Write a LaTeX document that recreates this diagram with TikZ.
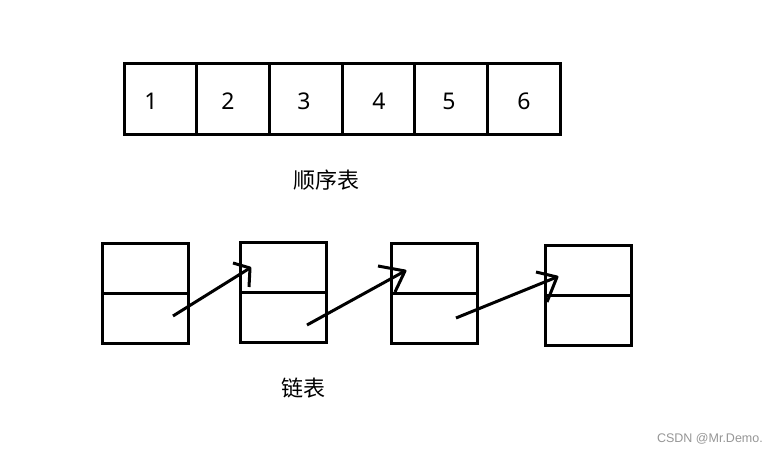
\documentclass[tikz,border=0pt]{standalone}
\usepackage{fontspec}
\setmainfont{Noto Sans}
\newfontfamily\cjk{Noto Sans CJK SC}
\newfontfamily\wmfont{Liberation Sans}
\definecolor{wmgray}{RGB}{150,150,150}
\begin{document}
\begin{tikzpicture}[x=1pt,y=-1pt,
  cell/.style={draw, line width=3pt, minimum width=72.67pt, minimum height=71pt, inner sep=0pt, outer sep=0pt, anchor=north west},
  half/.style={draw, line width=3pt, minimum width=86pt, minimum height=50pt, inner sep=0pt, outer sep=0pt, anchor=north west},
  num/.style={font=\fontsize{23}{27}\selectfont, inner sep=0pt},
  captxt/.style={font=\cjk\fontsize{22}{26}\selectfont, inner sep=0pt},
  link/.style={line width=3pt, line join=round, line cap=butt}]
\useasboundingbox[fill=white] (0,0) rectangle (780,454);
% sequential list
\foreach \i in {0,...,5} {
  \node[cell] (c\i) at ({124+72.67*\i},64) {};
}
\node[num] (n1) at (151,101) {1};
\node[num] (n2) at (228,101) {2};
\node[num] (n3) at (304,101) {3};
\node[num] (n4) at (379,101) {4};
\node[num] (n5) at (449,101) {5};
\node[num] (n6) at (524,101) {6};
\node[captxt] (t1) at (326,180) {顺序表};
% linked list
\node[half] (a1) at (102,244) {};
\node[half] (b1) at (102,294) {};
\node[half] (a2) at (240,243) {};
\node[half] (b2) at (240,293) {};
\node[half] (a3) at (391,244) {};
\node[half] (b3) at (391,294) {};
\node[half] (a4) at (545,246) {};
\node[half] (b4) at (545,296) {};
\node[captxt] (t2) at (303,388) {链表};
% hand-drawn pointers
\coordinate (s1) at (173,316); \coordinate (e1) at (250,268);
\coordinate (s2) at (307,325); \coordinate (e2) at (405,271);
\coordinate (s3) at (456,318); \coordinate (e3) at (557,277);
\draw[link] (s1) -- (e1);
\draw[link] (233,263) -- (e1) -- (249,287);
\draw[link] (s2) -- (e2);
\draw[link] (378,266) -- (e2) -- (395,292);
\draw[link] (s3) -- (e3);
\draw[link] (536,272) -- (e3) -- (547,302);
\node[font=\wmfont\fontsize{12.5}{14}\selectfont, text=wmgray, anchor=east, inner sep=0pt] (wm) at (763,439) {CSDN @Mr.Demo.};
\end{tikzpicture}
\end{document}
